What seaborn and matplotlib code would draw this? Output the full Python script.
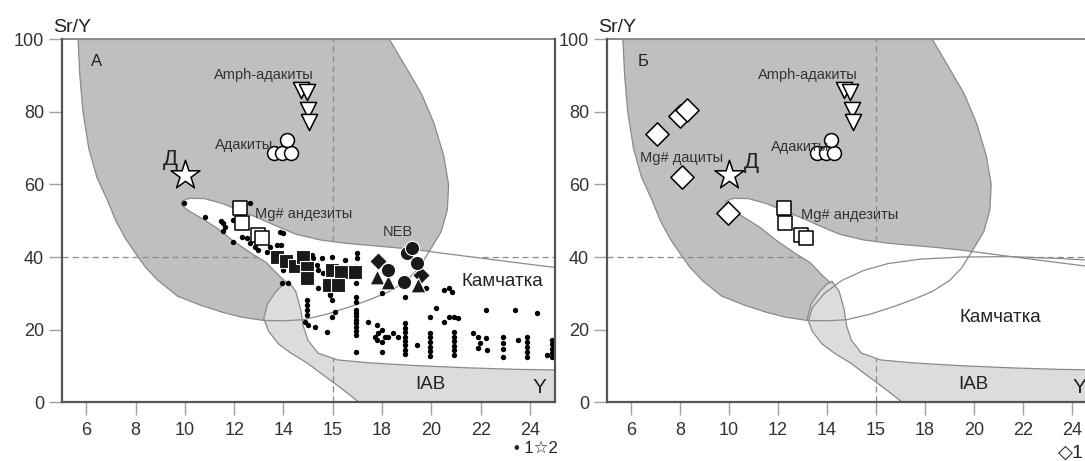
import matplotlib
matplotlib.use('Agg')
import matplotlib.pyplot as plt
import seaborn as sns

sns.set_style('ticks')
plt.rcParams['font.family'] = ['Liberation Sans', 'DejaVu Sans']

# ---- Kamchatka samples (panel A) ----
dot_x = [9.97, 10.82, 11.47, 11.55, 11.63, 11.55, 11.95, 11.95, 12.64, 12.32, 12.52, 12.64, 12.85, 12.97,
         13.33, 13.86, 13.98, 13.9, 13.45, 13.73,
         15.16, 15.56, 15.97, 16.5, 16.98, 16.98, 15.2, 15.16, 15.4, 15.36, 15.6,
         13.98, 13.94, 14.18, 14.95, 14.95, 14.95, 14.95, 14.87, 15.0, 15.28, 15.77, 15.4, 15.89, 15.97, 15.97, 16.09,
         16.94, 16.94, 16.94, 16.94, 16.94, 16.94, 16.94, 16.94, 16.94, 16.94, 16.94, 16.94, 16.94,
         17.99, 17.43, 17.8, 17.99, 17.84, 17.8, 17.99, 18.1, 17.99, 17.7, 18.25, 18.45, 18.65,
         18.93, 18.93, 18.93, 18.93, 18.93, 18.93, 18.93, 18.93, 18.93, 19.4,
         19.95, 19.95, 19.95, 19.95, 19.95, 19.95, 19.95,
         20.2, 20.5, 20.7, 20.85, 20.5, 20.7, 20.9, 21.1,
         20.9, 20.9, 20.9, 20.9, 20.9, 20.9,
         21.7, 21.9, 21.97, 21.9, 22.25, 22.2, 22.2,
         22.9, 22.9, 22.9, 22.9, 23.4, 23.5,
         23.9, 23.9, 23.9, 23.9, 23.9, 24.3, 24.7,
         24.9, 24.9, 24.9, 24.9, 24.9,
         15.89, 19.8]
dot_y = [55.0, 51.1, 50.0, 49.4, 48.3, 47.2, 44.2, 50.3, 55.0, 45.6, 45.3, 43.9, 42.8, 42.0,
         41.4, 47.0, 46.7, 43.4, 42.8, 43.4,
         40.6, 39.8, 40.1, 39.2, 41.2, 39.8, 39.8, 37.8, 36.5, 37.8, 35.6,
         36.5, 32.9, 32.9, 28.2, 26.8, 25.4, 24.0, 22.1, 21.3, 20.7, 19.3, 31.5, 30.1, 28.2, 23.5, 24.9,
         37.3, 32.9, 29.0, 27.6, 25.4, 24.6, 23.6, 22.7, 21.8, 20.7, 19.6, 18.5, 13.8,
         30.1, 22.1, 21.3, 19.9, 19.1, 17.1, 16.6, 18.0, 13.8, 18.0, 18.0, 19.1, 18.0,
         29.0, 21.8, 20.5, 19.3, 18.0, 16.8, 15.6, 14.4, 13.2, 15.7,
         23.5, 19.1, 17.8, 16.6, 15.3, 14.0, 12.7,
         26.0, 30.9, 31.5, 30.4, 22.1, 23.5, 23.5, 23.2,
         19.3, 18.0, 16.8, 15.5, 14.3, 13.0,
         19.1, 18.0, 16.3, 14.9, 14.4, 17.7, 25.4,
         18.0, 16.3, 14.6, 12.4, 25.4, 17.1,
         18.0, 16.6, 15.2, 13.8, 12.4, 24.6, 13.0,
         17.1, 15.9, 14.7, 13.5, 12.4,
         29.6, 31.5]
bsq_x = [13.75, 14.1, 14.45, 14.8, 14.95, 14.95, 15.95, 15.85, 16.35, 16.2, 16.9]
bsq_y = [40.0, 39.0, 37.5, 40.0, 37.0, 34.3, 36.5, 32.3, 35.8, 32.3, 36.0]
bdia_x = [17.85, 19.6]
bdia_y = [39.0, 35.1]
bcirc_x = [19.0, 19.2, 18.25, 19.4, 18.9]
bcirc_y = [41.2, 42.4, 36.5, 38.4, 33.0]
btri_x = [17.8, 18.25, 19.45]
btri_y = [34.5, 33.2, 32.3]

# ---- reference groups ----
andes_x = [12.25, 12.3, 12.95, 13.15]
andes_y = [53.6, 49.4, 46.0, 45.2]
adak_x = [13.6, 13.95, 14.3, 14.15]
adak_y = [68.8, 68.8, 68.8, 72.3]
amph_x = [14.7, 14.95, 15.0, 15.05]
amph_y = [86.0, 85.5, 80.5, 77.3]
star_x = [10.0]
star_y = [62.7]
dac_x = [7.05, 8.0, 8.3, 8.1, 9.95]
dac_y = [73.8, 79.0, 80.5, 62.2, 52.0]

x_ticks = [6, 8, 10, 12, 14, 16, 18, 20, 22, 24]
x_labels = ['6', '8', '10', '12', '14', '15', '18', '20', '22', '24']
y_ticks = [0, 20, 40, 60, 80, 100]

# ---- field outlines ----
dark_x = [5.67, 18.3, 19.0, 19.6, 20.1, 20.5, 20.7, 20.65, 20.4, 20.0, 19.5, 19.0, 18.3, 17.6, 16.8, 15.8,
          14.8, 14.0, 13.2, 12.3, 11.5, 10.6, 9.7, 8.9, 8.4, 8.05, 7.6, 7.2, 6.85, 6.43, 6.1, 5.87, 5.74, 5.67]
dark_y = [100, 100, 92, 85, 77, 68, 60, 53, 47, 42.5, 37, 33.5, 30.5, 28.5, 26.5, 24.3,
          22.7, 22.4, 22.5, 23.4, 24.8, 26.8, 29.2, 33.6, 37.2, 40.5, 45, 50, 55.8, 62, 70, 80, 90, 100]
tongue_top_x = [9.9, 10.2, 10.8, 11.5, 12.2, 13.0, 13.7, 14.5, 15.5, 16.5, 17.5, 18.5, 19.5, 20.5, 22.0, 23.5, 25.5]
tongue_top_y = [55.5, 56.2, 56.1, 54.8, 52.9, 50.7, 48.6, 46.3, 44.7, 43.8, 43.2, 42.6, 41.9, 41.0, 39.7, 38.4, 36.7]
tongue_bot_x = [9.9, 9.85, 10.1, 10.6, 11.3, 11.95, 12.7, 13.3, 13.8, 14.15]
tongue_bot_y = [55.5, 54.5, 53.0, 51.0, 48.0, 44.5, 41.0, 38.5, 35.0, 32.8]
iab_top_x = [14.2, 14.5, 14.7, 14.8, 15.0, 15.4, 16.2, 17.5, 19.5, 21.6, 23.5, 25.5]
iab_top_y = [33.3, 30.5, 25.5, 21.0, 17.0, 13.5, 11.6, 10.8, 10.0, 9.4, 9.0, 8.8]
iab_bot_x = [25.5, 17.05, 16.4, 15.7, 14.95, 14.3, 13.8, 13.4, 13.2, 13.35, 13.7, 14.0, 14.2]
iab_bot_y = [0, 0, 3.5, 7.0, 10.8, 13.5, 16.0, 19.5, 23.0, 27.0, 30.5, 32.5, 33.3]
ell_x = [13.25, 13.4, 13.9, 14.6, 15.5, 16.5, 17.8, 19.5, 21.5, 23.5, 25.5]
ell_y = [22.5, 26, 30, 33.5, 36.3, 38.2, 39.4, 40.0, 40.1, 39.6, 38.8]

EDGE = '#8a8a8a'


def draw_fields(ax, panel):
    ax.fill(dark_x, dark_y, color='#bfbfbf', lw=0, zorder=1)
    ax.fill(iab_top_x + iab_bot_x, iab_top_y + iab_bot_y, color='#dcdcdc', lw=0, zorder=2)
    ax.axhline(40, color='#8c8c8c', lw=0.9, ls=(0, (5, 3)), zorder=3)
    ax.axvline(16, color='#8c8c8c', lw=0.9, ls=(0, (5, 3)), zorder=3)
    kx = tongue_top_x + iab_top_x[::-1] + tongue_bot_x[::-1]
    ky = tongue_top_y + iab_top_y[::-1] + tongue_bot_y[::-1]
    ax.fill(kx, ky, color='white', lw=0, zorder=4)
    ax.plot(dark_x, dark_y, color=EDGE, lw=0.9, zorder=5)
    ax.plot(tongue_top_x, tongue_top_y, color=EDGE, lw=0.9, zorder=5)
    ax.plot(tongue_bot_x, tongue_bot_y, color=EDGE, lw=0.9, zorder=5)
    ax.plot(iab_top_x + iab_bot_x, iab_top_y + iab_bot_y, color=EDGE, lw=0.9, zorder=5)
    if panel == 'B':
        ax.plot(ell_x, ell_y, color=EDGE, lw=0.9, zorder=5)


def draw_refs(ax):
    sns.scatterplot(x=andes_x, y=andes_y, ax=ax, marker='s', s=95, color='white',
                    edgecolor='black', linewidth=1.1, zorder=9)
    sns.scatterplot(x=adak_x, y=adak_y, ax=ax, marker='o', s=100, color='white',
                    edgecolor='black', linewidth=1.1, zorder=9)
    sns.scatterplot(x=amph_x, y=amph_y, ax=ax, marker='v', s=135, color='white',
                    edgecolor='black', linewidth=1.1, zorder=9)
    sns.scatterplot(x=star_x, y=star_y, ax=ax, marker='*', s=480, color='white',
                    edgecolor='black', linewidth=1.1, zorder=9)


def style_axes(ax):
    ax.set_xlim(5, 25)
    ax.set_ylim(0, 100)
    ax.set_xticks(x_ticks)
    ax.set_xticklabels(x_labels)
    ax.set_yticks(y_ticks)
    for side in ['left', 'bottom', 'right']:
        ax.spines[side].set_color('#555555')
        ax.spines[side].set_linewidth(1.6)
        ax.spines[side].set_zorder(12)
    ax.spines['top'].set_color('#777777')
    ax.spines['top'].set_linewidth(1.2)
    ax.tick_params(direction='out', length=9.5, width=1, color='#a0a0a0',
                   labelsize=13, labelcolor='#333333')
    ax.tick_params(axis='x', pad=5)
    ax.tick_params(axis='y', pad=3)
    ax.set_xlabel('')
    ax.set_ylabel('')


fig = plt.figure(figsize=(10.85, 4.61), dpi=100)
axA = fig.add_axes([61.6 / 1085, 59 / 461, 493 / 1085, 362.5 / 461])
axB = fig.add_axes([606.5 / 1085, 59 / 461, 490 / 1085, 362.5 / 461])

# ---- panel A ----
draw_fields(axA, 'A')
sns.scatterplot(x=dot_x, y=dot_y, ax=axA, marker='o', s=15, color='black', linewidth=0, zorder=7)
sns.scatterplot(x=bsq_x, y=bsq_y, ax=axA, marker='s', s=100, color='#1a1a1a',
                edgecolor='white', linewidth=0.8, zorder=8)
sns.scatterplot(x=bdia_x, y=bdia_y, ax=axA, marker='D', s=80, color='#1a1a1a',
                edgecolor='white', linewidth=0.8, zorder=8)
sns.scatterplot(x=btri_x, y=btri_y, ax=axA, marker='^', s=115, color='#1a1a1a',
                edgecolor='white', linewidth=0.8, zorder=8)
sns.scatterplot(x=bcirc_x, y=bcirc_y, ax=axA, marker='o', s=105, color='#1a1a1a',
                edgecolor='white', linewidth=0.8, zorder=8)
draw_refs(axA)
style_axes(axA)

axA.text(6.4, 94, 'А', fontsize=12, ha='center', va='center', color='#222', zorder=10)
axA.text(13.2, 90.3, 'Amph-адакиты', fontsize=10.5, ha='center', va='center', color='#333', zorder=10)
axA.text(12.4, 71.0, 'Адакиты', fontsize=10.5, ha='center', va='center', color='#333', zorder=10)
axA.text(9.4, 67.0, 'Д', fontsize=16, ha='center', va='center', color='#222', zorder=10)
axA.text(14.8, 52.0, 'Mg# андезиты', fontsize=10.5, ha='center', va='center', color='#333', zorder=10)
axA.text(18.65, 47.0, 'NEB', fontsize=10.5, ha='center', va='center', color='#333', zorder=10)
axA.text(22.9, 33.2, 'Камчатка', fontsize=13.5, ha='center', va='center', color='#222', zorder=10)
axA.text(19.95, 4.7, 'IAB', fontsize=13.5, ha='center', va='center', color='#222', zorder=10)
axA.text(24.4, 3.9, 'Y', fontsize=15, ha='center', va='center', color='#222', zorder=10)

# ---- panel Б ----
draw_fields(axB, 'B')
sns.scatterplot(x=dac_x, y=dac_y, ax=axB, marker='D', s=140, color='white',
                edgecolor='black', linewidth=1.1, zorder=9)
draw_refs(axB)
style_axes(axB)

axB.text(6.5, 94, 'Б', fontsize=12, ha='center', va='center', color='#222', zorder=10)
axB.text(13.2, 90.3, 'Amph-адакиты', fontsize=10.5, ha='center', va='center', color='#333', zorder=10)
axB.text(12.9, 70.4, 'Адакиты', fontsize=10.5, ha='center', va='center', color='#333', zorder=10)
axB.text(10.9, 66.0, 'Д', fontsize=16, ha='center', va='center', color='#222', zorder=10)
axB.text(8.05, 67.4, 'Mg# дациты', fontsize=10.5, ha='center', va='center', color='#333', zorder=10)
axB.text(14.93, 51.7, 'Mg# андезиты', fontsize=10.5, ha='center', va='center', color='#333', zorder=10)
axB.text(21.06, 23.2, 'Камчатка', fontsize=13.5, ha='center', va='center', color='#222', zorder=10)
axB.text(19.96, 4.7, 'IAB', fontsize=13.5, ha='center', va='center', color='#222', zorder=10)
axB.text(24.3, 3.9, 'Y', fontsize=15, ha='center', va='center', color='#222', zorder=10)

# axis titles and legends
fig.text(53 / 1085, 1 - 27 / 461, 'Sr/Y', fontsize=14, ha='left', va='center', color='#222')
fig.text(598 / 1085, 1 - 27 / 461, 'Sr/Y', fontsize=14, ha='left', va='center', color='#222')
fig.text(558 / 1085, 1 - 448 / 461, '• 1☆2', fontsize=12, ha='right', va='center', color='#222')
fig.text(1084 / 1085, 1 - 453 / 461, '◇1', fontsize=14, ha='right', va='center', color='#222')

fig.savefig('out.png', dpi=100)
